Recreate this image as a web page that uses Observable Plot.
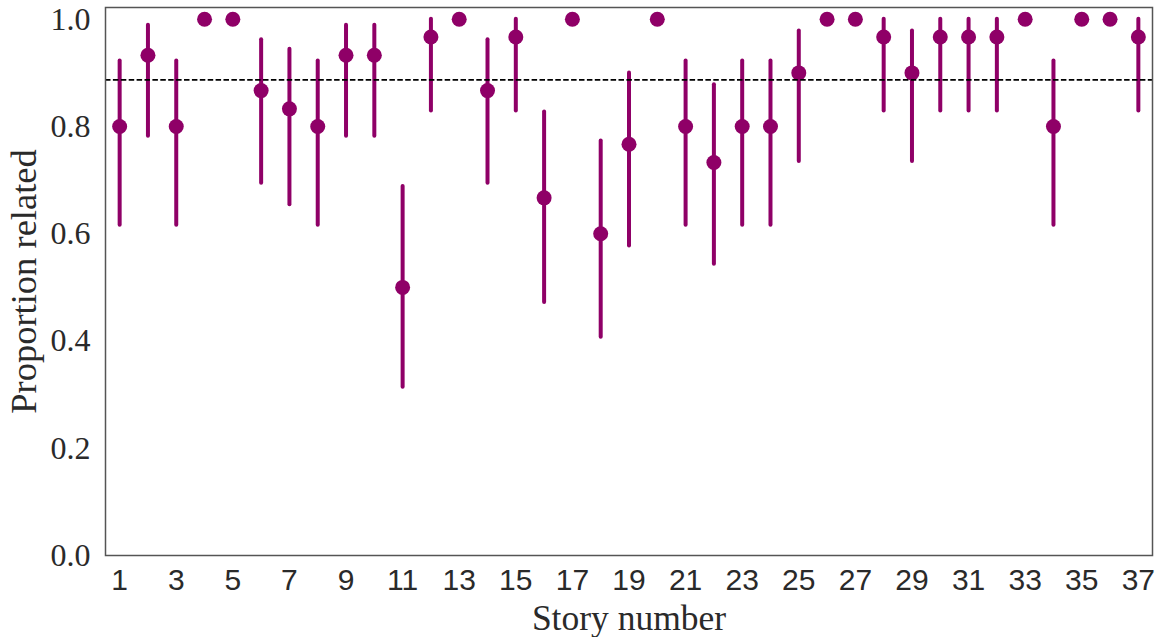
<!DOCTYPE html>
<html><head><meta charset="utf-8">
<script src="https://cdn.jsdelivr.net/npm/d3@7"></script>
<script src="https://cdn.jsdelivr.net/npm/@observablehq/plot@0.6"></script>
<style>body{margin:0;background:#fff}</style>
</head><body><div id="chart"></div>
<script>
const stories = d3.range(1, 38);
const proportion = [0.8,0.933,0.8,1,1,0.867,0.833,0.8,0.933,0.933,0.5,0.967,1,0.867,0.967,0.667,1,0.6,0.767,1,0.8,0.733,0.8,0.8,0.9,1,1,0.967,0.9,0.967,0.967,0.967,1,0.8,1,1,0.967];
const ciLow  = [0.616,0.782,0.616,null,null,0.694,0.654,0.616,0.782,0.782,0.314,0.829,null,0.694,0.829,0.472,null,0.407,0.577,null,0.616,0.543,0.616,0.616,0.735,null,null,0.829,0.735,0.829,0.829,0.829,null,0.616,null,null,0.829];
const ciHigh = [0.922,0.989,0.922,null,null,0.962,0.944,0.922,0.989,0.989,0.688,1.0,null,0.962,1.0,0.827,null,0.773,0.9,null,0.922,0.878,0.922,0.922,0.978,null,null,1.0,0.978,1.0,1.0,1.0,null,0.922,null,null,1.0];
const referenceLine = 0.887;
const xTicks = [1,3,5,7,9,11,13,15,17,19,21,23,25,27,29,31,33,35,37];
const yTicks = [0,0.2,0.4,0.6,0.8,1.0];

const data = stories.map((s, i) => ({story: s, p: proportion[i], lo: ciLow[i], hi: ciHigh[i]}));
const ci = data.filter(d => d.lo != null);
const purple = "#8f0067";
const serif = "'Liberation Serif', 'DejaVu Serif', serif";
const sans = "'Liberation Sans', 'DejaVu Sans', sans-serif";

const chart = Plot.plot({
  width: 1158,
  height: 637,
  marginLeft: 105,
  marginRight: 6,
  marginTop: 7,
  marginBottom: 82,
  style: {color: "#2a2a2a", background: "white"},
  x: {domain: [0.5, 37.5]},
  y: {domain: [0, 1.022]},
  marks: [
    Plot.ruleX(ci, {x: "story", y1: "lo", y2: "hi", stroke: purple, strokeWidth: 4, strokeLinecap: "round"}),
    Plot.dot(data, {x: "story", y: "p", r: 7.5, fill: purple, stroke: "none"}),
    Plot.ruleY([referenceLine], {stroke: "black", strokeWidth: 1.6, strokeDasharray: "5.5,2.4"}),
    Plot.frame({stroke: "#555", strokeWidth: 1.5}),
    Plot.axisY(yTicks, {tickSize: 0, tickPadding: 15, tickFormat: d => d.toFixed(1), fontSize: 32, fontFamily: serif, label: null}),
    Plot.axisX(xTicks, {tickSize: 0, tickPadding: 13, fontSize: 30, fontFamily: sans, label: null}),
    Plot.text(["Proportion related"], {frameAnchor: "left", textAnchor: "middle", lineAnchor: "middle", dx: -81, rotate: -90, fontSize: 36.5, fontFamily: serif, fill: "#2a2a2a"}),
    Plot.text(["Story number"], {frameAnchor: "bottom", textAnchor: "middle", lineAnchor: "middle", dy: 63, fontSize: 35.5, fontFamily: serif, fill: "#2a2a2a"})
  ]
});
document.getElementById("chart").appendChild(chart);
</script>
</body></html>
